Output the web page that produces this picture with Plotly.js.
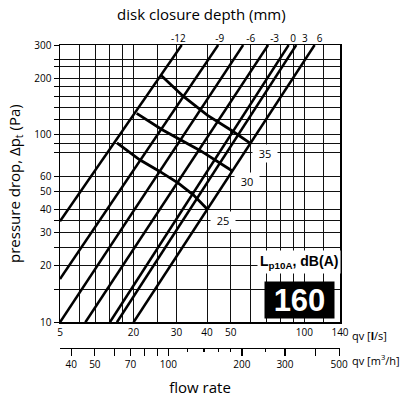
<!DOCTYPE html>
<html>
<head>
<meta charset="utf-8">
<script src="https://cdn.plot.ly/plotly-3.0.1.min.js"></script>
<style>html,body{margin:0;padding:0;background:#fff}#chart{width:411px;height:400px}</style>
</head>
<body>
<div id="chart"></div>
<script>
// ---- data ----
const depthLabels = ['-12', '-9', '-6', '-3', '0', '3', '6'];
const depthLabelFlow = [30.5, 45.1, 60.4, 75.6, 89.9, 100.5, 115.5]; // where the labels sit on the top scale
const lineFlowStart = [10, 10, 10, 12.7, 16, 17.1, 20];       // l/s
const linePaStart   = [34.5, 17, 10, 10, 10, 10, 10];         // Pa
const lineFlowEnd   = [31.5, 44.4, 56.2, 71.1, 86.3, 92.7, 110.2];
const linePaEnd     = [300, 300, 300, 300, 300, 300, 300];

const noiseLabels = ['35', '30', '25'];
const noise35Flow = [25.96, 32.1, 40.2, 50.4, 59.8];
const noise35Pa   = [206.3, 159.1, 126.5, 105.1, 90.2];
const noise30Flow = [20.6, 26.1, 37.4, 50.4];
const noise30Pa   = [129.7, 106.4, 82.3, 64.3];
const noise25Flow = [17.1, 21.2, 25.4, 30.6, 35.2, 40.2];
const noise25Pa   = [90.2, 73.4, 64.0, 54.9, 47.6, 39.9];

const flowTickVals = [10, 12, 14, 16, 18, 20, 25, 30, 40, 50, 60, 70, 80, 90, 100, 120, 140];
const flowTickText = ['5', '', '', '', '', '20', '', '30', '40', '50', '', '', '', '', '100', '', '140'];
const paTickVals = [10, 15, 20, 25, 30, 35, 40, 50, 60, 80, 90, 100, 120, 140, 160, 180, 200, 230, 250, 300];
const paTickText = ['10', '', '20', '', '30', '', '40', '50', '60', '', '', '100', '', '', '', '', '200', '', '', '300'];
const m3hTickVals = [40, 50, 60, 70, 80, 90, 100, 200, 300, 400, 500];
const m3hTickText = ['40', '50', '', '70', '', '', '100', '200', '300', '', '500'];
const m3hMinorVals = [120, 140, 160, 180, 250];
const sizeLabel = '160';

// ---- build ----
const FONT = 'Open Sans, DejaVu Sans, sans-serif';
const traces = [];
for (let i = 0; i < depthLabels.length; i++) {
  traces.push({
    x: [lineFlowStart[i], lineFlowEnd[i]],
    y: [linePaStart[i], linePaEnd[i]],
    mode: 'lines', type: 'scatter', name: depthLabels[i],
    line: {color: '#000', width: 2.5}, hoverinfo: 'skip'
  });
}
const noiseSets = [[noise35Flow, noise35Pa], [noise30Flow, noise30Pa], [noise25Flow, noise25Pa]];
noiseSets.forEach((s, i) => {
  traces.push({x: s[0], y: s[1], mode: 'lines', type: 'scatter', name: noiseLabels[i],
    line: {color: '#000', width: 2.8}, hoverinfo: 'skip'});
});
// invisible traces to activate the top axis and the m3/h axis
traces.push({x: [depthLabelFlow[0]], y: [300], xaxis: 'x3', yaxis: 'y', mode: 'markers',
  marker: {opacity: 0}, hoverinfo: 'skip', showlegend: false});
traces.push({x: [m3hTickVals[0]], y: [300], xaxis: 'x2', yaxis: 'y', mode: 'markers',
  marker: {opacity: 0}, hoverinfo: 'skip', showlegend: false});

const noiseAnn = noiseSets.map((s, i) => ({
  x: Math.log10(s[0][s[0].length - 1]), y: Math.log10(s[1][s[1].length - 1]),
  xref: 'x', yref: 'y', text: noiseLabels[i], showarrow: false,
  xshift: 15, yshift: -11, bgcolor: '#fff', borderpad: 1, width: 22,
  font: {family: FONT, size: 11, color: '#000'}
}));

const layout = {
  width: 411, height: 400,
  margin: {l: 60, r: 71, t: 45, b: 52},
  paper_bgcolor: '#fff', plot_bgcolor: '#fff',
  showlegend: false,
  font: {family: FONT, color: '#000'},
  title: {text: 'disk closure depth (mm)', x: 0.49, xref: 'container', xanchor: 'center',
          y: 0.963, yref: 'container', yanchor: 'middle', font: {family: FONT, size: 15, color: '#000'}},
  xaxis: {
    type: 'log', range: [1, Math.log10(140)],
    tickmode: 'array', tickvals: flowTickVals, ticktext: flowTickText, tickangle: 0,
    showgrid: true, gridcolor: '#111', gridwidth: 1,
    showline: true, linecolor: '#000', linewidth: 1.5, mirror: true,
    ticks: '', tickfont: {size: 10, color: '#000'}, zeroline: false, fixedrange: true
  },
  yaxis: {
    type: 'log', range: [1, Math.log10(300)], domain: [0.085, 1],
    tickmode: 'array', tickvals: paTickVals, ticktext: paTickText,
    showgrid: true, gridcolor: '#111', gridwidth: 1,
    showline: true, linecolor: '#000', linewidth: 1.5, mirror: true,
    ticks: 'outside', ticklen: 5, tickcolor: '#000', tickwidth: 1,
    tickfont: {size: 10, color: '#000'}, zeroline: false,
    title: {text: 'pressure drop, Δp<sub>t</sub> (Pa)', font: {size: 15, color: '#000'}, standoff: 10}
  },
  xaxis2: {
    type: 'log', overlaying: 'x', anchor: 'free', position: 0,
    range: [Math.log10(36), Math.log10(504)],
    tickmode: 'array', tickvals: m3hTickVals, ticktext: m3hTickText, tickangle: 0,
    showgrid: false, showline: true, linecolor: '#000', linewidth: 1.2,
    ticks: 'outside', ticklen: 7, tickwidth: 1.2, tickcolor: '#000',
    minor: {tickmode: 'array', tickvals: m3hMinorVals, ticks: 'outside', ticklen: 3, tickcolor: '#000', showgrid: false},
    tickfont: {size: 10, color: '#000'}, zeroline: false,
    title: {text: 'flow rate', font: {size: 15, color: '#000'}, standoff: 12}
  },
  xaxis3: {
    type: 'log', overlaying: 'x', anchor: 'y', side: 'top',
    range: [1, Math.log10(140)],
    tickmode: 'array', tickvals: depthLabelFlow, ticktext: depthLabels, tickangle: 0,
    showgrid: false, showline: false, ticks: '', zeroline: false,
    tickfont: {size: 10, color: '#000'}
  },
  annotations: noiseAnn.concat([
    {x: 1.035, y: 0.04, xref: 'paper', yref: 'paper', xanchor: 'left', yanchor: 'middle',
     text: 'qv [<b>l</b>/s]', showarrow: false, font: {size: 11, color: '#000'}},
    {x: 1.035, y: -0.04, xref: 'paper', yref: 'paper', xanchor: 'left', yanchor: 'middle',
     text: 'qv [m<sup>3</sup>/h]', showarrow: false, font: {size: 11, color: '#000'}},
    {x: 0.855, y: 0.284, xref: 'paper', yref: 'paper', xanchor: 'center', yanchor: 'middle',
     text: '<b>L<sub>p10A</sub>, dB(A)</b>', showarrow: false, bgcolor: '#fff', borderpad: 2,
     font: {family: 'Liberation Sans, Arial, sans-serif', size: 14, color: '#000'}},
    {x: 0.855, y: 0.158, xref: 'paper', yref: 'paper', xanchor: 'center', yanchor: 'middle',
     text: '<b>' + sizeLabel + '</b>', showarrow: false, bgcolor: '#000', width: 67, height: 34,
     borderpad: 1, align: 'center',
     font: {family: 'Liberation Sans, Arial, sans-serif', size: 31, color: '#fff'}}
  ])
};

Plotly.newPlot('chart', traces, layout, {staticPlot: true, displayModeBar: false});
</script>
</body>
</html>
